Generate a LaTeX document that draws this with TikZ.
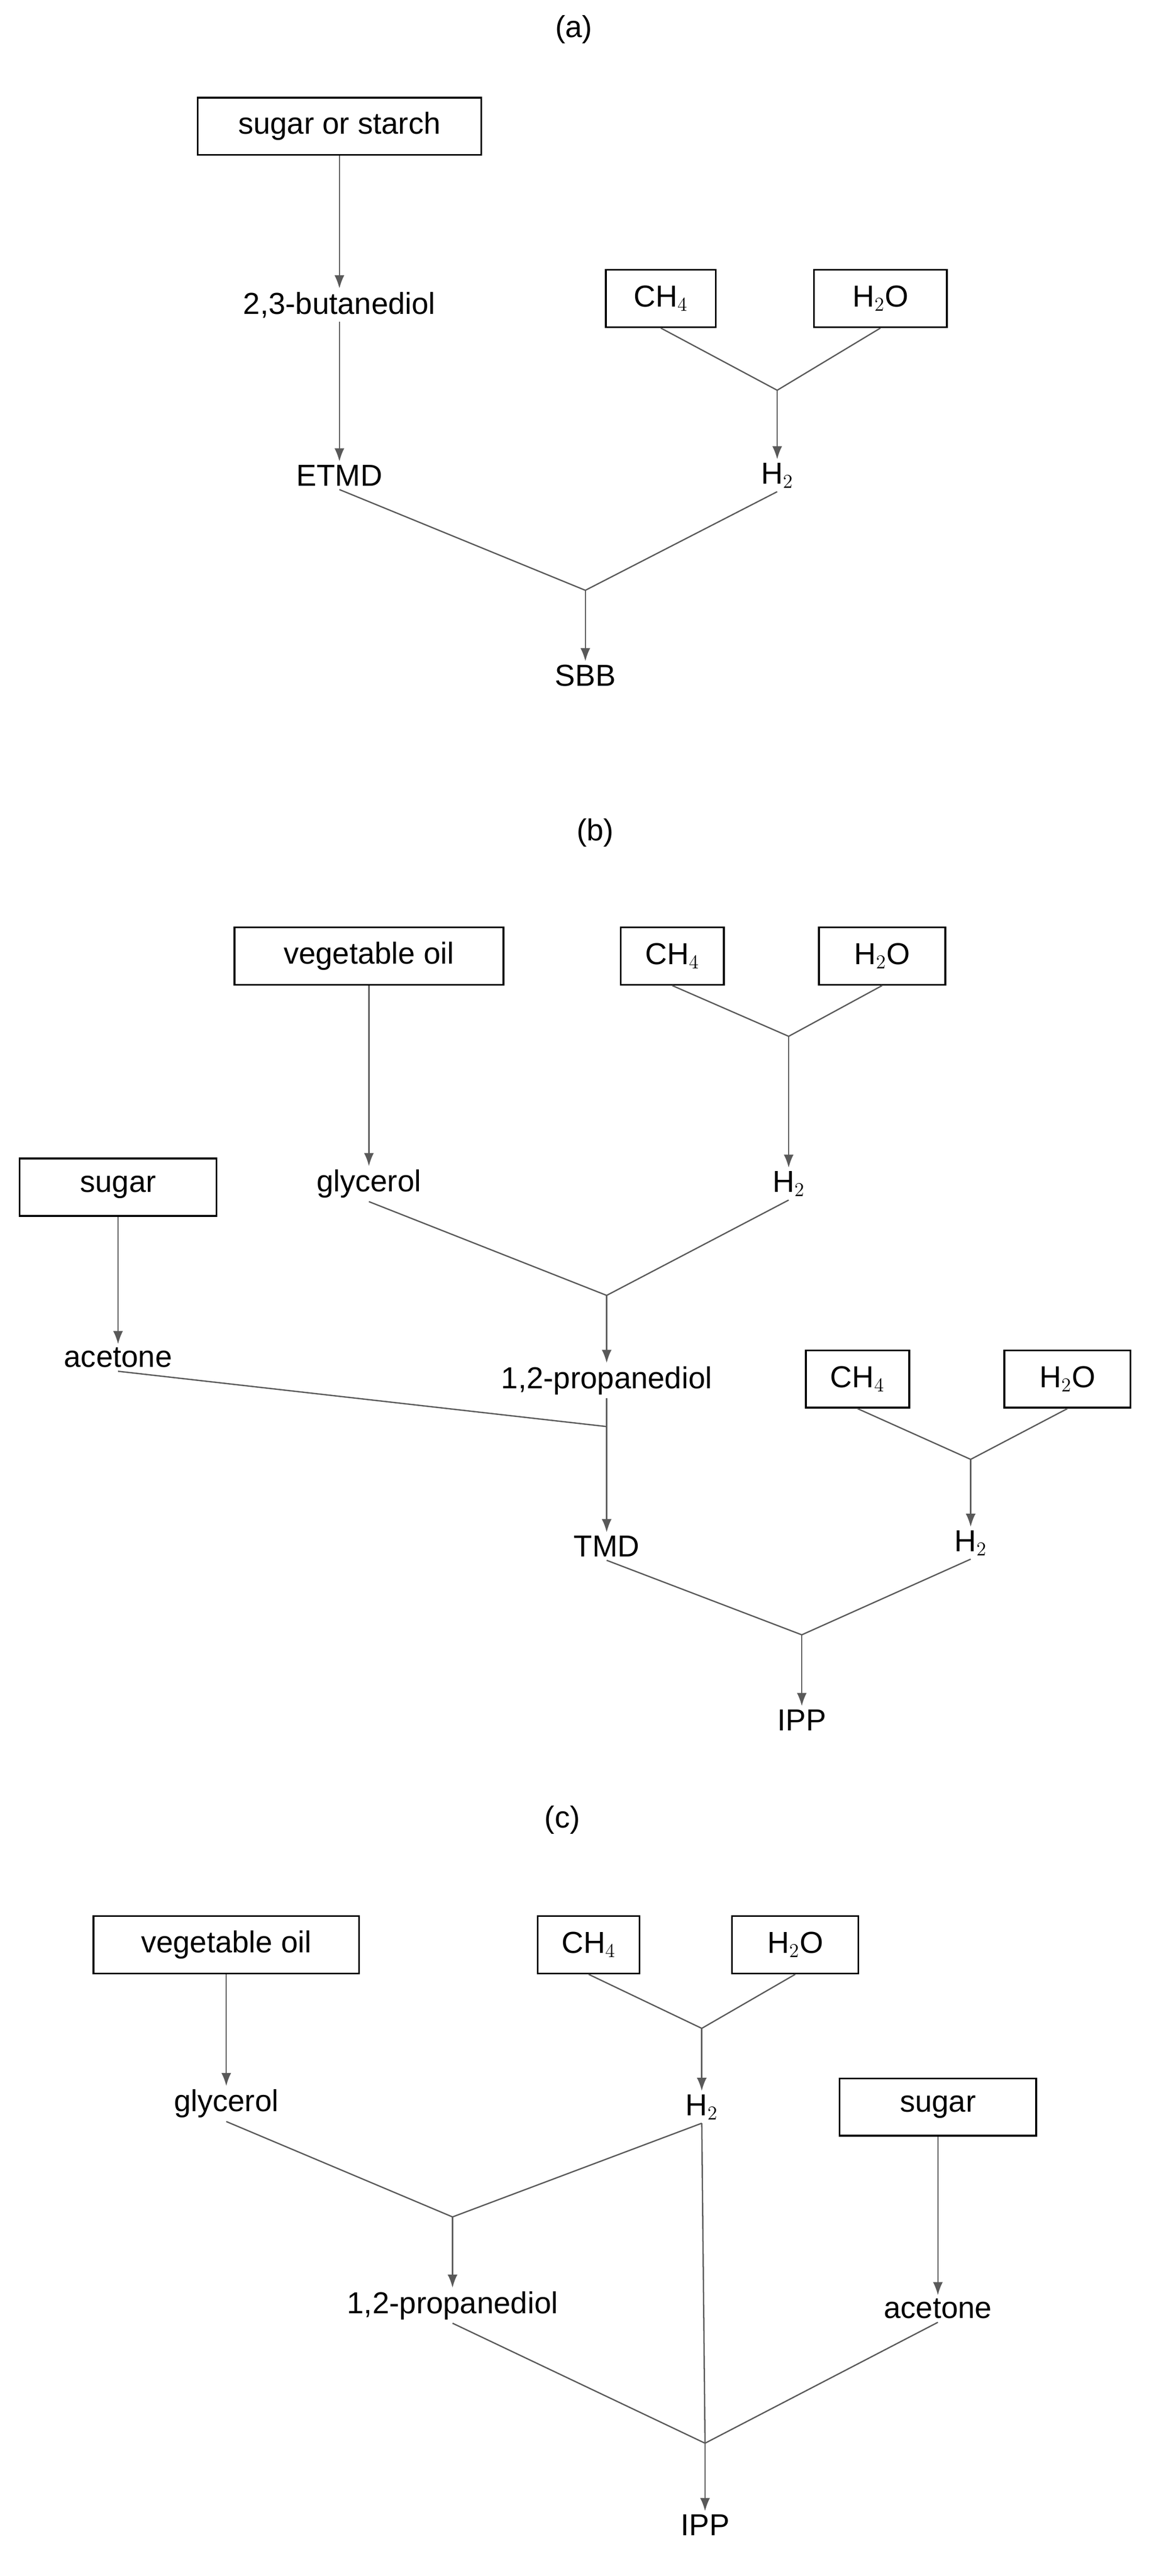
\documentclass[tikz,border=0pt]{standalone}
\usepackage{fontspec}
\setmainfont{Liberation Sans}
\usetikzlibrary{arrows.meta}
\begin{document}
\begin{tikzpicture}[x=1pt,y=-1pt,
  every node/.style={font=\fontsize{18.5}{22}\selectfont,inner sep=2pt},
  box/.style={draw=black,line width=1.1pt,minimum height=35pt,inner sep=0pt},
  ln/.style={draw=black!65,line width=0.8pt},
  ar/.style={ln,-{Latex[length=8pt,width=6pt]}}]
\useasboundingbox (0,0) rectangle (700.5,1571);
% (a)
\node (la) at (350,18) {(a)};
\node[box,minimum width=173pt] (a1) at (207,77) {sugar or starch};
\node (a2) at (207,186) {2,3-butanediol};
\node (a3) at (207,290) {ETMD};
\node[box,minimum width=67pt] (a4) at (403,182) {CH$_4$};
\node[box,minimum width=81pt] (a5) at (537,182) {H$_2$O};
\node (a6) at (474,290) {H$_2$};
\node (a7) at (357,412) {SBB};
\coordinate (ja) at (474,238);
\coordinate (jb) at (357,360);
\draw[ar] (a1) -- (a2);
\draw[ar] (a2) -- (a3);
\draw[ln] (a4.south) -- (ja) -- (a5.south);
\draw[ar] (ja) -- (a6);
\draw[ln] (a3.south) -- (jb) -- (a6.south);
\draw[ar] (jb) -- (a7);
% (b)
\node (lb) at (363,508) {(b)};
\node[box,minimum width=164pt] (b1) at (225,583) {vegetable oil};
\node (b2) at (225,722) {glycerol};
\node[box,minimum width=63pt] (b3) at (410,583) {CH$_4$};
\node[box,minimum width=77pt] (b4) at (538,583) {H$_2$O};
\node (b5) at (481,722) {H$_2$};
\node[box,minimum width=120pt] (b6) at (72,724) {sugar};
\node (b7) at (72,828) {acetone};
\node (b8) at (370,842) {1,2-propanediol};
\node (b9) at (370,943) {TMD};
\node[box,minimum width=63pt] (b10) at (523,841) {CH$_4$};
\node[box,minimum width=77pt] (b11) at (651,841) {H$_2$O};
\node (b12) at (592,941) {H$_2$};
\node (b13) at (489,1049) {IPP};
\coordinate (jb1) at (481,632);
\coordinate (jb2) at (370,790);
\coordinate (jb3) at (370,870);
\coordinate (jb4) at (592,890);
\coordinate (jb5) at (489,997);
\draw[ar] (b1) -- (b2);
\draw[ln] (b3.south) -- (jb1) -- (b4.south);
\draw[ar] (jb1) -- (b5);
\draw[ar] (b6) -- (b7);
\draw[ln] (b2.south) -- (jb2) -- (b5.south);
\draw[ar] (jb2) -- (b8);
\draw[ln] (b7.south) -- (jb3);
\draw[ar] (b8.south) -- (b9);
\draw[ln] (b10.south) -- (jb4) -- (b11.south);
\draw[ar] (jb4) -- (b12);
\draw[ln] (b9.south) -- (jb5) -- (b12.south);
\draw[ar] (jb5) -- (b13);
% (c)
\node (lc) at (343,1110) {(c)};
\node[box,minimum width=162pt] (c1) at (138,1186) {vegetable oil};
\node (c2) at (138,1283) {glycerol};
\node[box,minimum width=62pt] (c3) at (359,1186) {CH$_4$};
\node[box,minimum width=77pt] (c4) at (485,1186) {H$_2$O};
\node (c5) at (428,1285) {H$_2$};
\node[box,minimum width=120pt] (c6) at (572,1285) {sugar};
\node (c7) at (572,1408) {acetone};
\node (c8) at (276,1406) {1,2-propanediol};
\node (c9) at (430,1540) {IPP};
\coordinate (jc1) at (428,1237);
\coordinate (jc2) at (276,1352);
\coordinate (jc3) at (430,1490);
\draw[ar] (c1) -- (c2);
\draw[ln] (c3.south) -- (jc1) -- (c4.south);
\draw[ar] (jc1) -- (c5);
\draw[ar] (c6) -- (c7);
\draw[ln] (c2.south) -- (jc2) -- (c5.south);
\draw[ar] (jc2) -- (c8);
\draw[ln] (c5.south) -- (jc3);
\draw[ln] (c8.south) -- (jc3) -- (c7.south);
\draw[ar] (jc3) -- (c9);
\end{tikzpicture}
\end{document}
